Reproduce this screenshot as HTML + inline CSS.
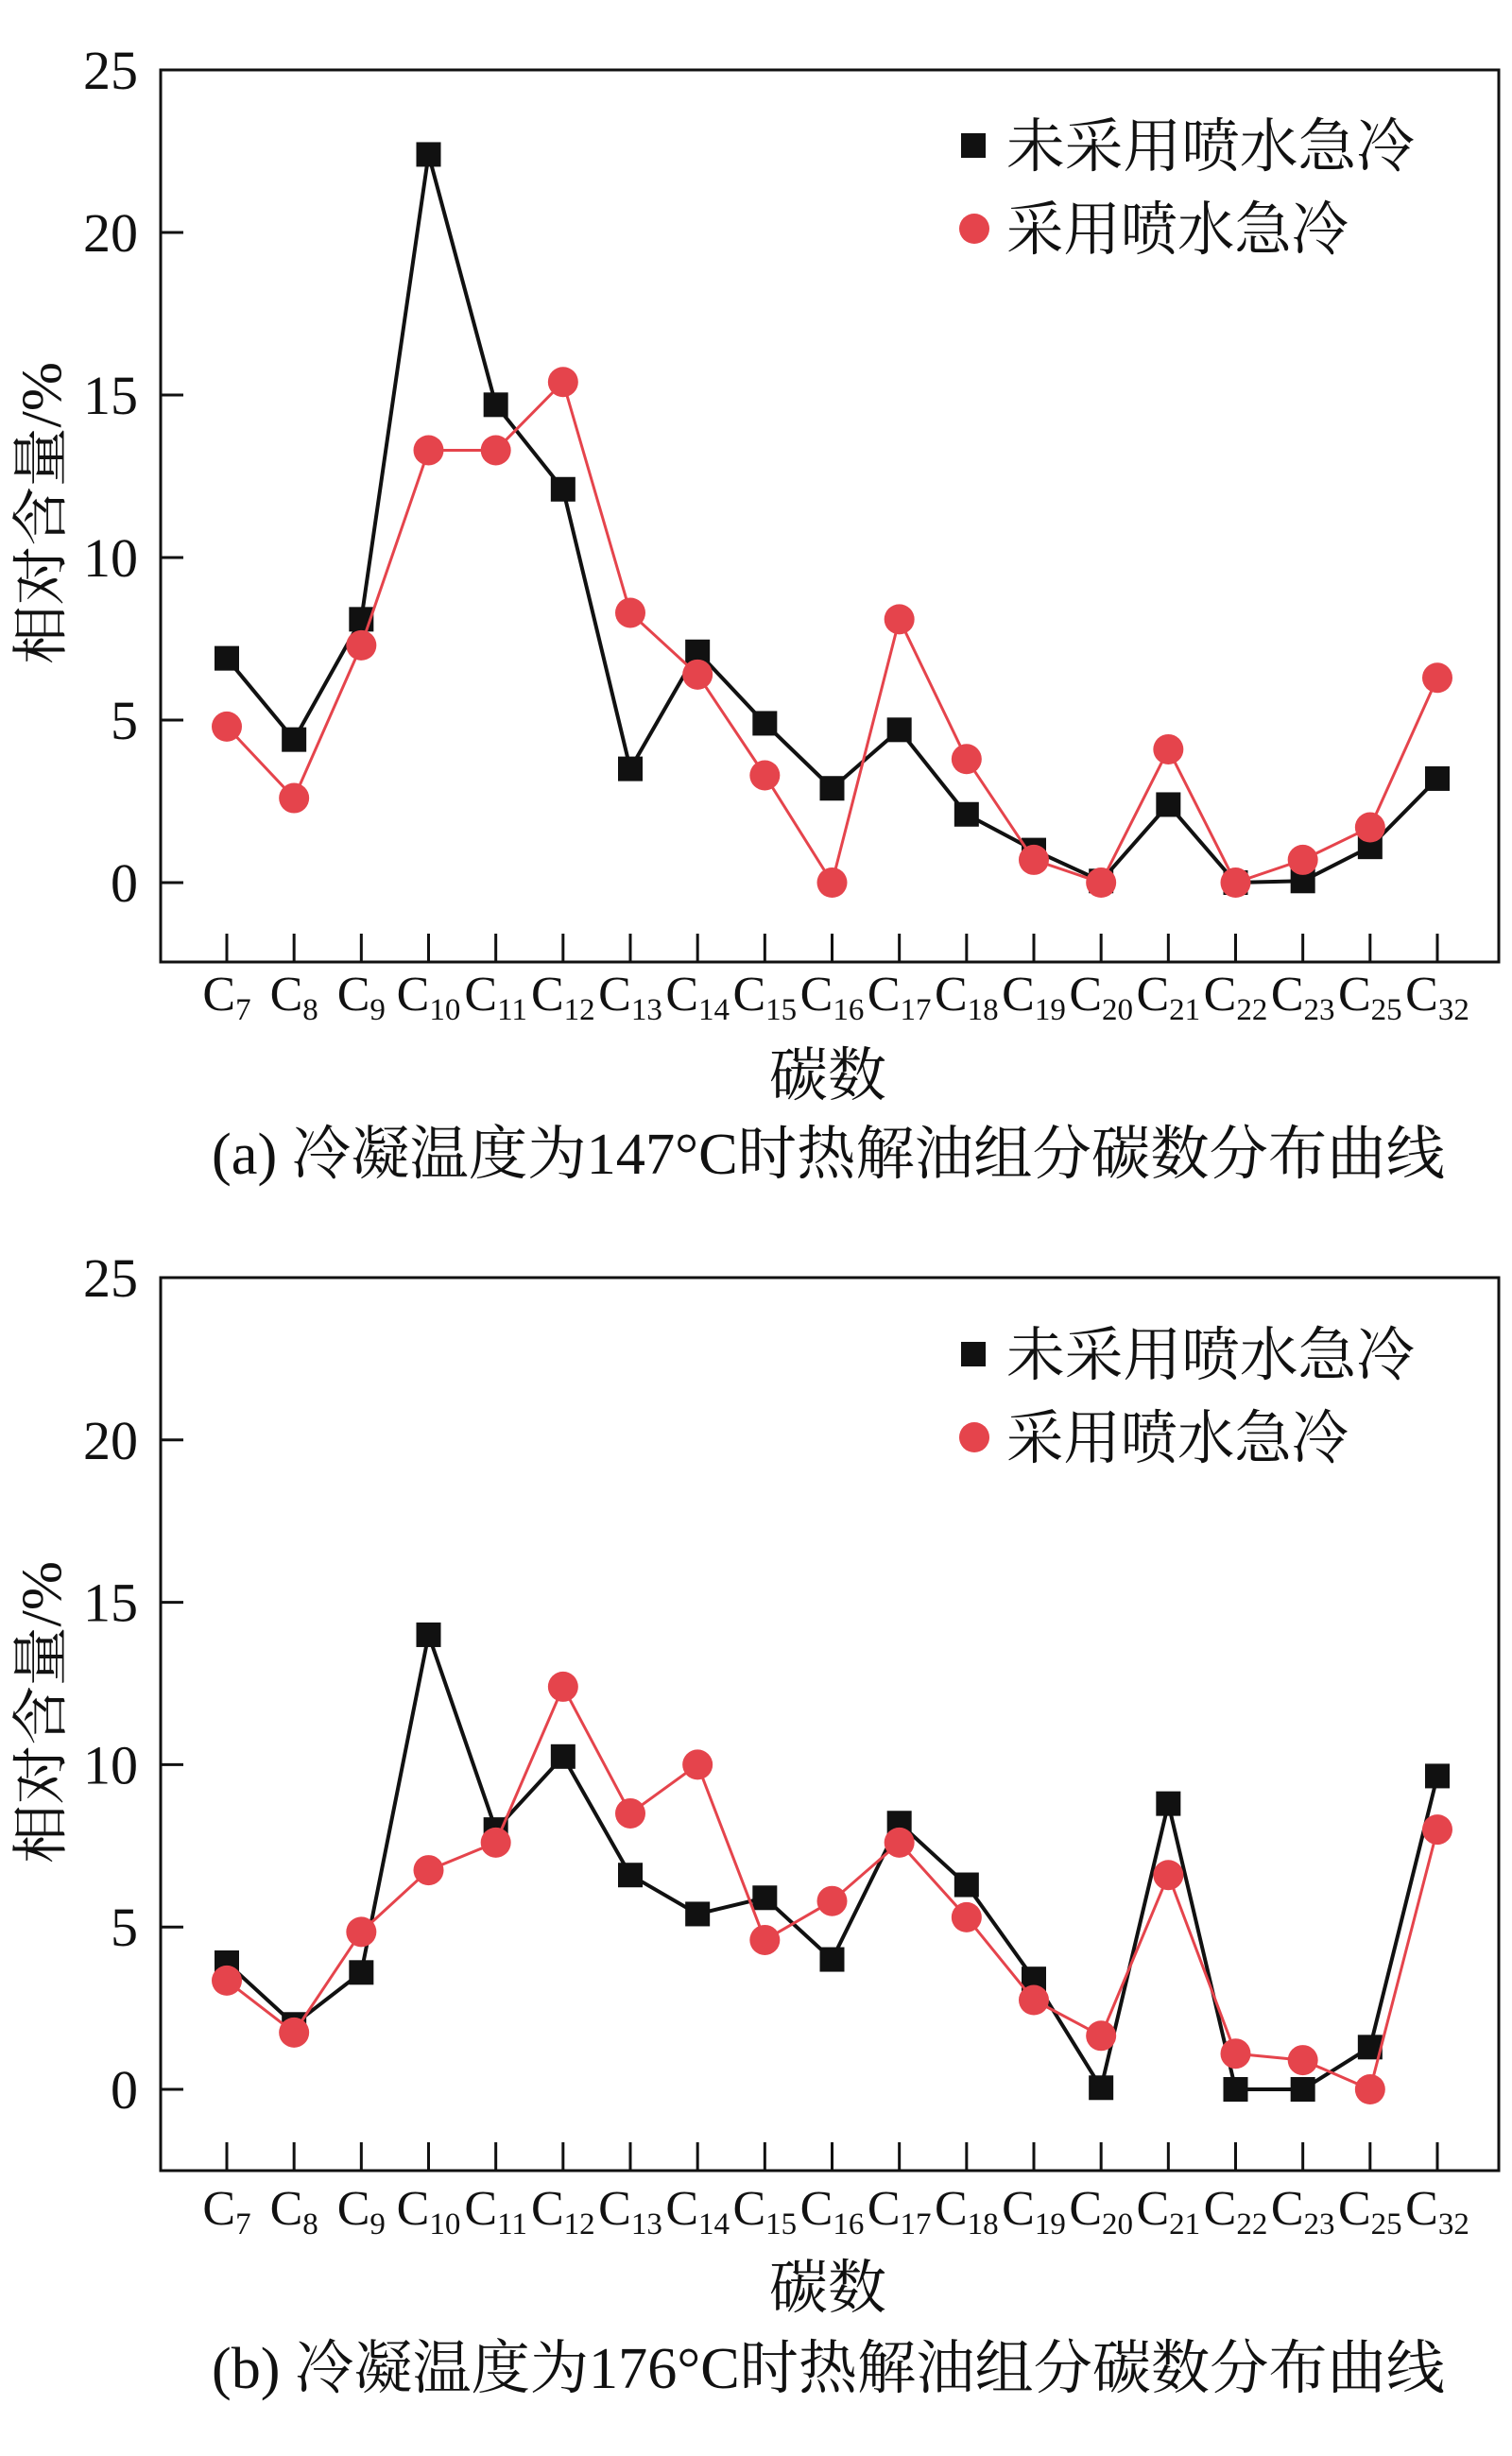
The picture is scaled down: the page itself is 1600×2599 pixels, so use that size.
<!DOCTYPE html>
<html><head><meta charset="utf-8"><style>
html,body{margin:0;padding:0;background:#fff;}
svg{display:block;}
text{font-family:"Liberation Serif","Noto Serif CJK SC",serif;fill:#111;}
</style></head><body>
<svg id="svg" width="1600" height="2599" viewBox="0 0 1600 2599" xmlns="http://www.w3.org/2000/svg"></svg>
<script>
const categories=["7","8","9","10","11","12","13","14","15","16","17","18","19","20","21","22","23","25","32"];
const yTicks=[0,5,10,15,20,25];
const blackA=[6.9,4.4,8.1,22.4,14.7,12.1,3.5,7.1,4.9,2.9,4.7,2.1,1.0,0.05,2.4,0,0.05,1.1,3.2];
const redA=[4.8,2.6,7.3,13.3,13.3,15.4,8.3,6.4,3.3,0,8.1,3.8,0.7,0,4.1,0,0.7,1.7,6.3];
const blackB=[3.9,2.0,3.6,14.0,8.0,10.25,6.6,5.4,5.9,4.0,8.2,6.3,3.4,0.05,8.8,0,0,1.3,9.65];
const redB=[3.35,1.75,4.85,6.75,7.6,12.4,8.5,10.0,4.6,5.8,7.6,5.3,2.75,1.65,6.6,1.1,0.9,0,8.0];
const legendLabels=["未采用喷水急冷","采用喷水急冷"];
const captions=["(a) 冷凝温度为147°C时热解油组分碳数分布曲线","(b) 冷凝温度为176°C时热解油组分碳数分布曲线"];

const NS="http://www.w3.org/2000/svg";
const svg=document.getElementById('svg');
function mk(tag,attrs,parent){const e=document.createElementNS(NS,tag);for(const k in attrs)e.setAttribute(k,attrs[k]);(parent||svg).appendChild(e);return e;}
const RED="#e5444c";

function panel(idx,top,y0,bottom,black,red){
  const g=mk('g',{});
  
  
  const L=170,R=1586;
  const yS=v=>y0-v*(y0-top)/25;
  const xS=i=>240+i*(1521-240)/(categories.length-1);
  const frame=mk('rect',{x:L,y:top,width:R-L,height:bottom-top,fill:'none',stroke:'#111','stroke-width':3},g);
  
  
  yTicks.forEach(t=>{
    const y=yS(t);
    const tk=mk('line',{x1:L,x2:L+24,y1:y,y2:y,stroke:'#111','stroke-width':3},g);
    
    
    const lb=mk('text',{x:146,y:y+20,'text-anchor':'end','font-size':58},g);
    lb.textContent=t;
    
    
  });
  const labY=idx?2336:1051;
  categories.forEach((c,i)=>{
    const x=xS(i);
    const tk=mk('line',{x1:x,x2:x,y1:bottom,y2:bottom-30,stroke:'#111','stroke-width':3},g);
    
    
    const t=mk('text',{x:x,y:labY+18,'text-anchor':'middle','font-size':52},g);
    
    
    const a=mk('tspan',{},t);a.textContent='C';
    const b=mk('tspan',{'font-size':33,dy:10},t);b.textContent=c;
  });
  function series(vals,color,w,shape,name){
    const pts=vals.map((v,i)=>xS(i)+','+yS(v)).join(' ');
    const pl=mk('polyline',{points:pts,fill:'none',stroke:color,'stroke-width':w},g);
    
    
    vals.forEach((v,i)=>{
      let m;
      if(shape==='sq') m=mk('rect',{x:xS(i)-13,y:yS(v)-13,width:26,height:26,fill:'#111'},g);
      else m=mk('circle',{cx:xS(i),cy:yS(v),r:16,fill:color},g);
      
      
    });
  }
  series(black,'#111',4,'sq','no-quench');
  series(red,RED,3,'ci','quench');
  const ly1=idx?1433:154, ly2=idx?1521:242;
  const s=mk('rect',{x:1017,y:ly1-13,width:26,height:26,fill:'#111'},g);
  
  
  const c=mk('circle',{cx:1031,cy:ly2,r:16,fill:RED},g);
  
  
  const t1=mk('text',{x:1065,y:ly1+22,'font-size':62,textLength:432,lengthAdjust:'spacingAndGlyphs'},g);
  t1.textContent=legendLabels[0];
  
  
  const t2=mk('text',{x:1065,y:ly2+22,'font-size':62,textLength:362,lengthAdjust:'spacingAndGlyphs'},g);
  t2.textContent=legendLabels[1];
  
  
  const yc=idx?1812:543;
  const yt=mk('text',{x:0,y:0,'font-size':60,'text-anchor':'middle',textLength:320,lengthAdjust:'spacingAndGlyphs',transform:`translate(64,${yc}) rotate(-90)`},g);
  yt.textContent='相对含量/%';
  
  
  const xt=mk('text',{x:876,y:(idx?2420:1137)+22,'font-size':62,'text-anchor':'middle'},g);
  xt.textContent='碳数';
  
  
  const cap=mk('text',{x:224,y:(idx?2505:1220)+22,'font-size':62,textLength:1305,lengthAdjust:'spacingAndGlyphs'},g);
  cap.textContent=captions[idx];
  
  
}
panel(0,74,934,1018,blackA,redA);
panel(1,1352,2211,2297,blackB,redB);
</script>
</body></html>
